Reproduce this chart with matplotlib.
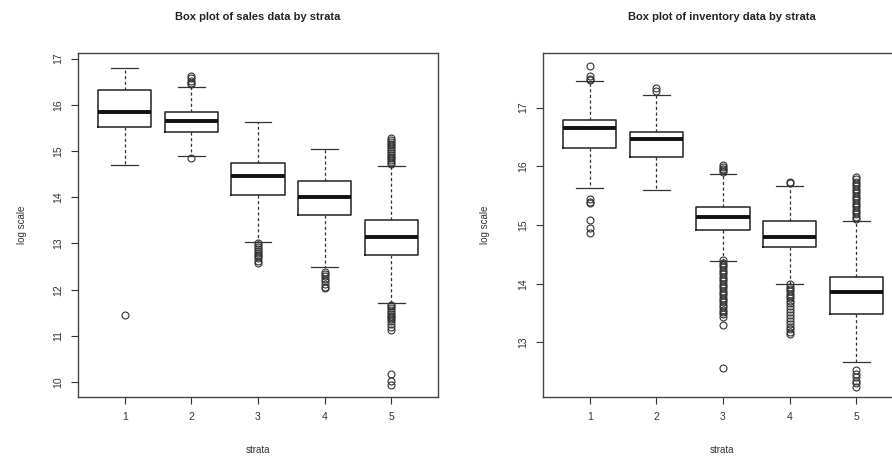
import matplotlib.pyplot as plt

plt.rcParams['font.family'] = ['Liberation Sans', 'DejaVu Sans']

strata = [1, 2, 3, 4, 5]

# sales data (log scale)
sales_whislo = [14.69, 14.90, 13.04, 12.50, 11.71]
sales_q1 = [15.52, 15.41, 14.04, 13.62, 12.76]
sales_med = [15.84, 15.64, 14.45, 14.01, 13.13]
sales_q3 = [16.31, 15.84, 14.74, 14.36, 13.51]
sales_whishi = [16.80, 16.38, 15.63, 15.05, 14.68]
sales_fliers = [
    [11.45],
    [16.62, 16.57, 16.52, 16.47, 16.44, 14.85],
    [13.00, 12.96, 12.92, 12.88, 12.84, 12.80, 12.76, 12.72, 12.68, 12.63, 12.57],
    [12.39, 12.34, 12.29, 12.24, 12.19, 12.12, 12.06, 12.03],
    [15.28, 15.24, 15.20, 15.16, 15.12, 15.08, 15.04, 15.00, 14.96, 14.92,
     14.88, 14.84, 14.80, 14.76, 14.72,
     11.68, 11.64, 11.60, 11.56, 11.52, 11.48, 11.44, 11.40, 11.36, 11.32,
     11.26, 11.20, 11.12,
     10.18, 10.02, 9.93],
]

# inventory data (log scale)
inv_whislo = [15.63, 15.59, 14.38, 13.99, 12.66]
inv_q1 = [16.32, 16.16, 14.91, 14.63, 13.49]
inv_med = [16.66, 16.46, 15.14, 14.80, 13.86]
inv_q3 = [16.79, 16.59, 15.30, 15.07, 14.12]
inv_whishi = [17.46, 17.21, 15.87, 15.67, 15.07]
inv_fliers = [
    [17.71, 17.53, 17.49, 17.47, 15.45, 15.40, 15.37, 15.09, 14.95, 14.87],
    [17.33, 17.29],
    [16.02, 15.99, 15.96, 15.93, 15.90,
     14.40, 14.36, 14.32, 14.28, 14.24, 14.20, 14.16, 14.12, 14.08, 14.04,
     14.00, 13.96, 13.92, 13.88, 13.84, 13.80, 13.76, 13.72, 13.68, 13.64,
     13.60, 13.56, 13.52, 13.48, 13.44, 13.30, 12.56],
    [15.74, 15.71,
     13.99, 13.95, 13.91, 13.87, 13.83, 13.79, 13.75, 13.71, 13.67, 13.62,
     13.57, 13.52, 13.47, 13.42, 13.37, 13.32, 13.27, 13.22, 13.18, 13.15],
    [15.82, 15.78, 15.74, 15.70, 15.66, 15.62, 15.58, 15.54, 15.50, 15.46,
     15.42, 15.38, 15.34, 15.30, 15.26, 15.22, 15.18, 15.14, 15.10,
     12.53, 12.47, 12.41, 12.35, 12.30, 12.24],
]


def make_stats(lo, q1, med, q3, hi, fl):
    return [dict(whislo=lo[i], q1=q1[i], med=med[i], q3=q3[i], whishi=hi[i],
                 fliers=fl[i]) for i in range(len(lo))]


def draw(ax, stats, ylim, yticks):
    ax.bxp(stats, positions=strata, widths=0.8, showfliers=True,
           boxprops=dict(color='#222222', linewidth=1.1),
           medianprops=dict(color='#111111', linewidth=2.8),
           whiskerprops=dict(color='#333333', linewidth=0.9, linestyle=(0, (2.5, 2))),
           capprops=dict(color='#333333', linewidth=0.9),
           capwidths=0.4,
           flierprops=dict(marker='o', markersize=5, markerfacecolor='none',
                           markeredgecolor='#333333', markeredgewidth=0.8))
    ax.set_xlim(0.3, 5.7)
    ax.set_ylim(*ylim)
    ax.set_xticks(strata)
    ax.set_xticklabels([str(s) for s in strata])
    ax.set_yticks(yticks)
    ax.set_yticklabels([str(t) for t in yticks], rotation=90, va='center')
    ax.tick_params(colors='#333333', labelsize=7.5, length=5, width=0.8, pad=6)
    for sp in ax.spines.values():
        sp.set_color('#444444')
        sp.set_linewidth(1.0)


fig = plt.figure(figsize=(8.92, 4.63), dpi=100)
W, H = 892.0, 463.0

ax1 = fig.add_axes([78 / W, (H - 397) / H, 360 / W, 344 / H])
draw(ax1, make_stats(sales_whislo, sales_q1, sales_med, sales_q3, sales_whishi,
                     sales_fliers), (9.68, 17.12), [10, 11, 12, 13, 14, 15, 16, 17])

ax2 = fig.add_axes([543 / W, (H - 397) / H, 360 / W, 344 / H])
draw(ax2, make_stats(inv_whislo, inv_q1, inv_med, inv_q3, inv_whishi,
                     inv_fliers), (12.07, 17.93), [13, 14, 15, 16, 17])

fig.text(258 / W, 1 - 17 / H, 'Box plot of sales data by strata', ha='center',
         va='center', fontsize=8, fontweight='bold', color='#222222')
fig.text(722 / W, 1 - 17 / H, 'Box plot of inventory data by strata', ha='center',
         va='center', fontsize=8, fontweight='bold', color='#222222')
fig.text(258 / W, 1 - 450 / H, 'strata', ha='center', va='center', fontsize=7,
         color='#333333')
fig.text(722 / W, 1 - 450 / H, 'strata', ha='center', va='center', fontsize=7,
         color='#333333')
fig.text(22 / W, 1 - 225 / H, 'log scale', ha='center', va='center', fontsize=7,
         rotation=90, color='#333333')
fig.text(485 / W, 1 - 225 / H, 'log scale', ha='center', va='center', fontsize=7,
         rotation=90, color='#333333')

fig.savefig('out.png', dpi=100)
